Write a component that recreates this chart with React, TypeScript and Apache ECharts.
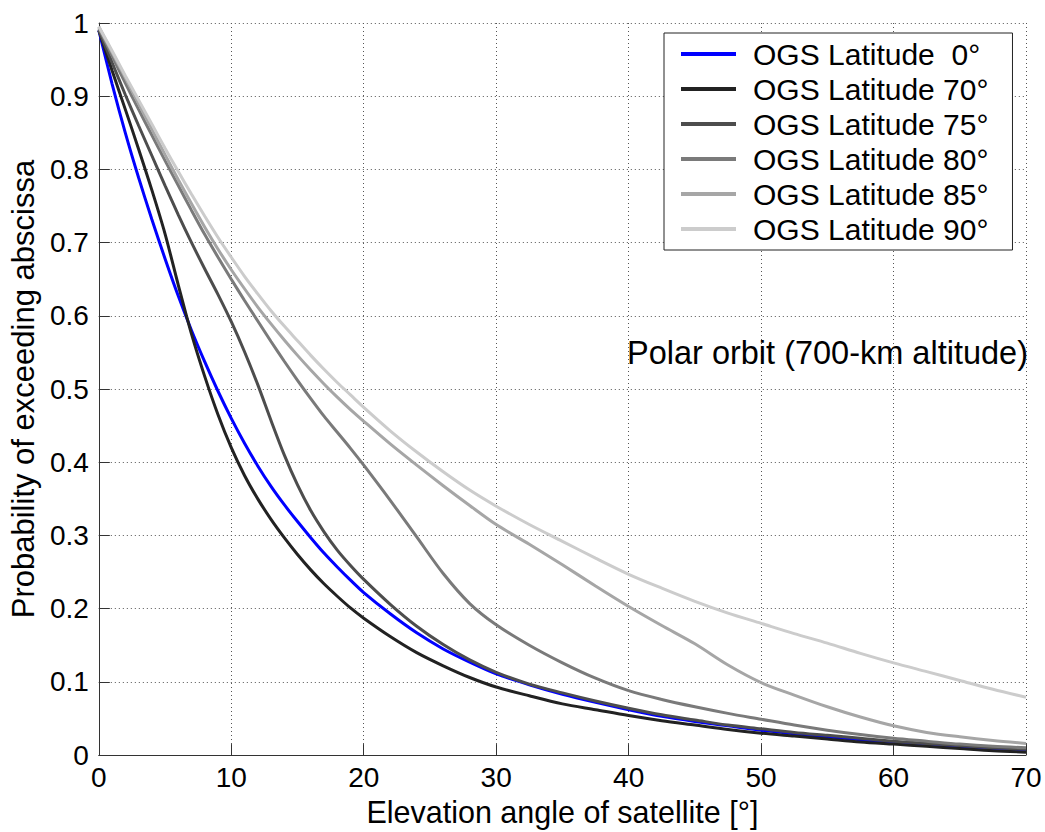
import React, { useEffect, useRef } from "react";
import * as echarts from "echarts";

const ANGLES = [0, 1, 2, 3, 4, 5, 6, 7, 8, 9, 10, 11, 12, 13, 14, 15, 16, 17, 18, 19, 20, 22, 24, 26, 28, 30, 32.5, 35, 37.5, 40, 42.5, 45, 47.5, 50, 52.5, 55, 57.5, 60, 62.5, 65, 67.5, 70];

const LAT0 = [0.99, 0.917, 0.85, 0.789, 0.732, 0.678, 0.627, 0.58, 0.537, 0.497, 0.46, 0.426, 0.395, 0.367, 0.342, 0.319, 0.297, 0.276, 0.257, 0.239, 0.222, 0.193, 0.167, 0.145, 0.127, 0.111, 0.096, 0.083, 0.072, 0.062, 0.053, 0.046, 0.04, 0.034, 0.029, 0.025, 0.021, 0.017, 0.014, 0.011, 0.008, 0.006];
const LAT70 = [0.99, 0.935, 0.882, 0.828, 0.772, 0.712, 0.642, 0.575, 0.517, 0.465, 0.42, 0.382, 0.35, 0.322, 0.297, 0.274, 0.253, 0.234, 0.217, 0.201, 0.187, 0.162, 0.14, 0.122, 0.106, 0.093, 0.081, 0.07, 0.062, 0.054, 0.047, 0.041, 0.035, 0.03, 0.026, 0.022, 0.018, 0.015, 0.012, 0.009, 0.006, 0.004];
const LAT75 = [0.99, 0.946, 0.902, 0.86, 0.819, 0.778, 0.738, 0.7, 0.664, 0.629, 0.592, 0.551, 0.506, 0.457, 0.41, 0.369, 0.334, 0.305, 0.28, 0.259, 0.24, 0.206, 0.176, 0.151, 0.13, 0.113, 0.097, 0.085, 0.074, 0.064, 0.055, 0.048, 0.041, 0.036, 0.031, 0.027, 0.023, 0.019, 0.016, 0.013, 0.01, 0.008];
const LAT80 = [0.993, 0.955, 0.918, 0.882, 0.847, 0.812, 0.778, 0.744, 0.711, 0.68, 0.65, 0.621, 0.593, 0.565, 0.538, 0.512, 0.487, 0.463, 0.441, 0.419, 0.396, 0.348, 0.298, 0.248, 0.207, 0.178, 0.15, 0.126, 0.105, 0.088, 0.076, 0.066, 0.057, 0.049, 0.041, 0.034, 0.028, 0.023, 0.019, 0.015, 0.012, 0.01];
const LAT85 = [0.995, 0.96, 0.925, 0.89, 0.855, 0.82, 0.786, 0.753, 0.721, 0.691, 0.663, 0.637, 0.612, 0.589, 0.567, 0.546, 0.526, 0.507, 0.489, 0.472, 0.456, 0.425, 0.396, 0.368, 0.341, 0.315, 0.288, 0.26, 0.231, 0.203, 0.177, 0.152, 0.123, 0.099, 0.082, 0.066, 0.052, 0.04, 0.031, 0.025, 0.02, 0.016];
const LAT90 = [0.995, 0.962, 0.928, 0.895, 0.862, 0.829, 0.797, 0.766, 0.736, 0.707, 0.68, 0.654, 0.63, 0.607, 0.586, 0.566, 0.546, 0.527, 0.509, 0.492, 0.475, 0.443, 0.414, 0.387, 0.362, 0.34, 0.315, 0.292, 0.269, 0.247, 0.228, 0.21, 0.194, 0.18, 0.166, 0.153, 0.139, 0.126, 0.114, 0.102, 0.09, 0.079];

const SERIES_NAMES = ["OGS Latitude \u00a00°", "OGS Latitude 70°", "OGS Latitude 75°", "OGS Latitude 80°", "OGS Latitude 85°", "OGS Latitude 90°"];
const SERIES_VALUES = [LAT0, LAT70, LAT75, LAT80, LAT85, LAT90];
const COLORS = ["#0000ff", "#222222", "#4d4d4d", "#7a7a7a", "#a6a6a6", "#cccccc"];

const X_TITLE = "Elevation angle of satellite [°]";
const Y_TITLE = "Probability of exceeding abscissa";
const NOTE = "Polar orbit (700-km altitude)";

const FONT = "'Liberation Sans', Arial, Helvetica, sans-serif";

export default function App() {
  const ref = useRef<HTMLDivElement>(null);
  useEffect(() => {
    if (!ref.current) return;
    const chart = echarts.init(ref.current, undefined, { renderer: "svg" });
    const gridLine = { show: true, lineStyle: { color: "#555", type: [1, 3], width: 1 } };
    chart.setOption({
      animation: false,
      backgroundColor: "#ffffff",
      color: COLORS,
      textStyle: { fontFamily: FONT },
      grid: { left: 93, right: 19, top: 23, bottom: 76, containLabel: false },
      xAxis: {
        type: "value",
        min: 0,
        max: 70,
        interval: 10,
        name: X_TITLE,
        nameLocation: "middle",
        nameGap: 34,
        nameTextStyle: { fontSize: 30.5, color: "#000", fontFamily: FONT },
        axisLine: { show: true, onZero: false, lineStyle: { color: "#333", width: 1 } },
        axisTick: { show: true, inside: true, length: 11, lineStyle: { color: "#333" } },
        axisLabel: { fontSize: 28, color: "#000", margin: 8, fontFamily: FONT },
        splitLine: gridLine,
      },
      yAxis: {
        type: "value",
        min: 0,
        max: 1,
        interval: 0.1,
        name: Y_TITLE,
        nameLocation: "middle",
        nameGap: 56,
        nameTextStyle: { fontSize: 31, color: "#000", fontFamily: FONT },
        axisLine: { show: true, lineStyle: { color: "#333", width: 1 } },
        axisTick: { show: true, inside: true, length: 11, lineStyle: { color: "#333" } },
        axisLabel: { fontSize: 28, color: "#000", margin: 10, fontFamily: FONT },
        splitLine: gridLine,
      },
      legend: {
        orient: "vertical",
        left: 664,
        top: 33,
        itemWidth: 55,
        itemHeight: 4,
        icon: "rect",
        itemGap: 5,
        padding: [6, 24, 6, 17],
        backgroundColor: "#ffffff",
        borderColor: "#222",
        borderWidth: 1,
        textStyle: { fontSize: 30, lineHeight: 30, color: "#000", fontFamily: FONT, padding: [0, 0, 0, 12] },
        data: SERIES_NAMES,
      },
      graphic: [
        {
          type: "text",
          x: 627,
          y: 353,
          style: { text: NOTE, fontSize: 32.5, fill: "#000", font: `32.5px ${FONT}`, textVerticalAlign: "middle" },
          z: 10,
        },
      ],
      series: SERIES_NAMES.map((name, i) => ({
        name,
        type: "line",
        showSymbol: false,
        symbol: "none",
        smooth: 0.3,
        data: ANGLES.map((a, j) => [a, SERIES_VALUES[i][j]]),
        lineStyle: { color: COLORS[i], width: 3 },
        itemStyle: { color: COLORS[i] },
        z: 2 + i * 0.01,
      })),
    });
    return () => chart.dispose();
  }, []);
  return <div ref={ref} style={{ position: "absolute", left: 0, top: 0, width: 1045, height: 832 }} />;
}
